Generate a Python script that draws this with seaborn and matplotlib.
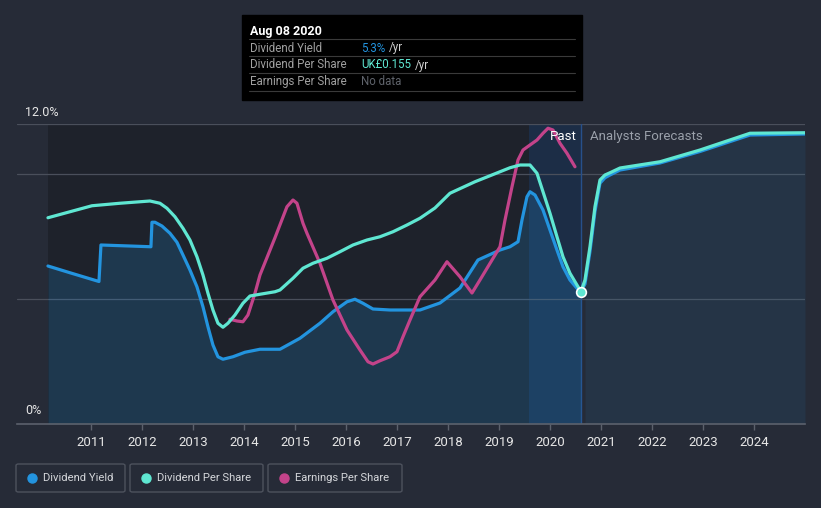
"""Dividend yield / DPS / EPS history and forecast"""

import numpy as np
import pandas as pd
import matplotlib
matplotlib.use("Agg")
import matplotlib.pyplot as plt
from matplotlib.patches import Rectangle, FancyBboxPatch
import seaborn as sns

# dividend yield (%)
dy_year = [2010.157, 2010.588, 2011.157, 2011.196, 2012.176, 2012.196, 2012.255, 2012.392,
           2012.549, 2012.686, 2012.804, 2012.941, 2013.078, 2013.196, 2013.294, 2013.392,
           2013.490, 2013.588, 2013.784, 2014.020, 2014.314, 2014.706, 2015.098, 2015.490,
           2015.745, 2016.020, 2016.176, 2016.333, 2016.529, 2016.863, 2017.451, 2017.843,
           2018.235, 2018.588, 2019.020, 2019.216, 2019.373, 2019.451, 2019.549, 2019.608,
           2019.706, 2019.863, 2020.000, 2020.137, 2020.255, 2020.392, 2020.529, 2020.608,
           2020.686, 2020.784, 2020.882, 2020.980, 2021.078, 2021.176, 2021.373, 2022.157,
           2022.941, 2023.922, 2025.000]
dy_val = [6.32, 6.05, 5.7, 7.16, 7.09, 8.07, 8.07, 7.92,
          7.63, 7.27, 6.76, 6.16, 5.49, 4.69, 3.89, 3.16,
          2.69, 2.59, 2.69, 2.87, 2.99, 2.99, 3.43, 4.03,
          4.49, 4.89, 4.99, 4.83, 4.6, 4.56, 4.56, 4.84,
          5.44, 6.56, 6.96, 7.09, 7.29, 8.16, 9.09, 9.29,
          9.16, 8.56, 7.76, 6.96, 6.29, 5.76, 5.43, 5.3,
          5.6, 6.9, 8.5, 9.63, 9.85, 9.96, 10.16, 10.44,
          10.9, 11.56, 11.6]

# dividend per share (drawn on the same scale)
dps_year = [2010.157, 2010.588, 2011.020, 2011.569, 2011.961, 2012.157, 2012.353, 2012.490,
            2012.647, 2012.804, 2012.941, 2013.078, 2013.196, 2013.294, 2013.392, 2013.490,
            2013.588, 2013.686, 2013.824, 2013.980, 2014.118, 2014.314, 2014.608, 2014.706,
            2014.961, 2015.157, 2015.353, 2015.627, 2015.882, 2016.137, 2016.412, 2016.667,
            2016.922, 2017.196, 2017.451, 2017.745, 2018.039, 2018.529, 2019.020, 2019.216,
            2019.412, 2019.608, 2019.745, 2019.863, 2020.000, 2020.137, 2020.255, 2020.392,
            2020.529, 2020.608, 2020.686, 2020.784, 2020.882, 2020.980, 2021.078, 2021.176,
            2021.373, 2022.157, 2022.941, 2023.922, 2025.000]
dps_val = [8.25, 8.49, 8.73, 8.83, 8.89, 8.92, 8.83, 8.63,
           8.29, 7.83, 7.36, 6.69, 5.96, 5.23, 4.56, 4.03,
           3.87, 4.03, 4.36, 4.83, 5.12, 5.19, 5.29, 5.36,
           5.83, 6.23, 6.43, 6.63, 6.89, 7.16, 7.36, 7.49,
           7.69, 7.96, 8.23, 8.64, 9.23, 9.69, 10.09, 10.25,
           10.36, 10.36, 10.03, 9.29, 8.43, 7.49, 6.69, 6.03,
           5.56, 5.3, 5.76, 7.09, 8.69, 9.76, 9.96, 10.05,
           10.24, 10.49, 10.96, 11.63, 11.65]

# earnings per share (same scale)
eps_year = [2013.725, 2013.863, 2013.980, 2014.078, 2014.216, 2014.314, 2014.608, 2014.843,
            2014.961, 2015.039, 2015.157, 2015.235, 2015.490, 2015.745, 2016.020, 2016.275,
            2016.431, 2016.529, 2016.667, 2016.863, 2017.000, 2017.118, 2017.255, 2017.451,
            2017.745, 2017.980, 2018.235, 2018.471, 2018.627, 2019.020, 2019.118, 2019.255,
            2019.373, 2019.471, 2019.608, 2019.745, 2019.863, 2019.961, 2020.059, 2020.196,
            2020.333, 2020.490]
eps_val = [4.19, 4.12, 4.09, 4.36, 5.23, 5.96, 7.45, 8.69,
           8.96, 8.83, 8.03, 7.63, 6.43, 4.96, 3.76, 2.96,
           2.49, 2.4, 2.53, 2.69, 2.89, 3.49, 4.16, 5.09,
           5.76, 6.49, 5.89, 5.24, 5.76, 7.09, 8.16, 9.49,
           10.56, 10.96, 11.16, 11.36, 11.63, 11.83, 11.76, 11.23,
           10.83, 10.29]

year_ticks = list(range(2011, 2025))
now = 2020.61

bg = "#262b37"
c_dy = "#2394df"
c_dps = "#5fe7d2"
c_eps = "#c3438a"

sns.set_style("dark", rc={"axes.facecolor": bg, "figure.facecolor": bg})
plt.rcParams["font.family"] = ["Roboto", "DejaVu Sans"]

fig = plt.figure(figsize=(8.21, 5.08), dpi=100)
W, H = 821, 508
ax = fig.add_axes([17 / W, (H - 424) / H, (805 - 17) / W, 300 / H])
ax.set_facecolor(bg)

# past region + "now" band
ax.axvspan(dy_year[0], now, color="#1e222b", zorder=0, lw=0)
ax.axvspan(2019.59, now, color="#1a3c68", alpha=0.45, zorder=0.5, lw=0)
ax.axvline(now, color="#27508a", lw=1, zorder=1)

for g in [5, 10, 12]:
    ax.axhline(g, color="#4a4f5b", lw=0.9, zorder=0.8)

dy = pd.DataFrame({"year": dy_year, "val": dy_val})
past = dy[dy.year <= now + 0.001]
fut = dy[dy.year >= now - 0.001]
ax.fill_between(past.year, past.val, 0, color=c_dy, alpha=0.2, lw=0, zorder=1)
ax.fill_between(fut.year, fut.val, 0, color=c_dy, alpha=0.09, lw=0, zorder=1)

sns.lineplot(data=dy, x="year", y="val", color=c_dy, lw=2.3, ax=ax, zorder=3)
sns.lineplot(x=dps_year, y=dps_val, color=c_dps, lw=2.3, ax=ax, zorder=4)
sns.lineplot(x=eps_year, y=eps_val, color=c_eps, lw=2.3, ax=ax, zorder=3)
ax.plot([now], [5.3], "o", ms=7, mfc=c_dps, mec="white", mew=1.2, zorder=6)

ax.set_xlim(2009.55, 2025.0)
ax.set_ylim(0, 12)
ax.set_xlabel("")
ax.set_ylabel("")
ax.set_yticks([])
ax.set_xticks(year_ticks)
ax.set_xticklabels([str(y) for y in year_ticks], color="#e6e6e6", fontsize=9.5)
ax.tick_params(axis="x", length=4, width=1, color="#5c616c", pad=5, direction="out",
               bottom=True)
for s in ["top", "left", "right"]:
    ax.spines[s].set_visible(False)
ax.spines["bottom"].set_color("#5c616c")
ax.spines["bottom"].set_linewidth(1.2)
ax.grid(False)

# y labels
fig.text(25 / W, 1 - 112 / H, "12.0%", color="#e6e6e6", fontsize=9, va="center")
fig.text(25 / W, 1 - 411 / H, "0%", color="#e6e6e6", fontsize=9, va="center")

ax.text(2020.52, 11.5, "Past", color="white", fontsize=9.5, ha="right", va="center")
ax.text(2020.78, 11.5, "Analysts Forecasts", color="#9aa0aa", fontsize=9.5,
        ha="left", va="center")

# tooltip box
fig.patches.append(Rectangle((242 / W, 1 - 100 / H), 340 / W, 85 / H,
                             transform=fig.transFigure, color="black", zorder=10))
fig.text(250 / W, 1 - 31 / H, "Aug 08 2020", color="white", fontsize=9,
         fontweight="bold", va="center", zorder=11)
rows = [("Dividend Yield", "5.3%", c_dy), ("Dividend Per Share", "UK£0.155", c_dps),
        ("Earnings Per Share", "No data", "#5f636b")]
for i, (lab, val, col) in enumerate(rows):
    y = 48 + i * 17
    fig.lines.append(plt.Line2D([249 / W, 575 / W], [1 - (y - 9) / H, 1 - (y - 9) / H],
                                transform=fig.transFigure, color="#3a3a3a", lw=0.8,
                                zorder=11))
    fig.text(250 / W, 1 - y / H, lab, color="#a0a0a0", fontsize=8.3, va="center", zorder=11)
    t = fig.text(361 / W, 1 - y / H, val, color=col, fontsize=8.3, va="center", zorder=11)
    if i < 2:
        fig.canvas.draw()
        bb = t.get_window_extent()
        fig.text(bb.x1 / W + 4 / W, 1 - y / H, "/yr", color="#d0d0d0", fontsize=8.3,
                 va="center", zorder=11)
fig.lines.append(plt.Line2D([249 / W, 575 / W], [1 - 91 / H, 1 - 91 / H],
                            transform=fig.transFigure, color="#3a3a3a", lw=0.8, zorder=11))

# legend buttons
buttons = [("Dividend Yield", c_dy, 16, 125), ("Dividend Per Share", c_dps, 130, 263),
           ("Earnings Per Share", c_eps, 268, 402)]
for lab, col, x0, x1 in buttons:
    fig.patches.append(FancyBboxPatch((x0 / W, 1 - 492 / H), (x1 - x0) / W, 28 / H,
                                      boxstyle="round,pad=0,rounding_size=0.003",
                                      transform=fig.transFigure, fc="none",
                                      ec="#4d525d", lw=1))
    fig.lines.append(plt.Line2D([(x0 + 16) / W], [1 - 478 / H], marker="o", ms=6.5,
                                color=col, transform=fig.transFigure, lw=0))
    fig.text((x0 + 27) / W, 1 - 478 / H, lab, color="#d4d6da", fontsize=8.1, va="center")

fig.savefig("out.png", dpi=100, facecolor=bg)
